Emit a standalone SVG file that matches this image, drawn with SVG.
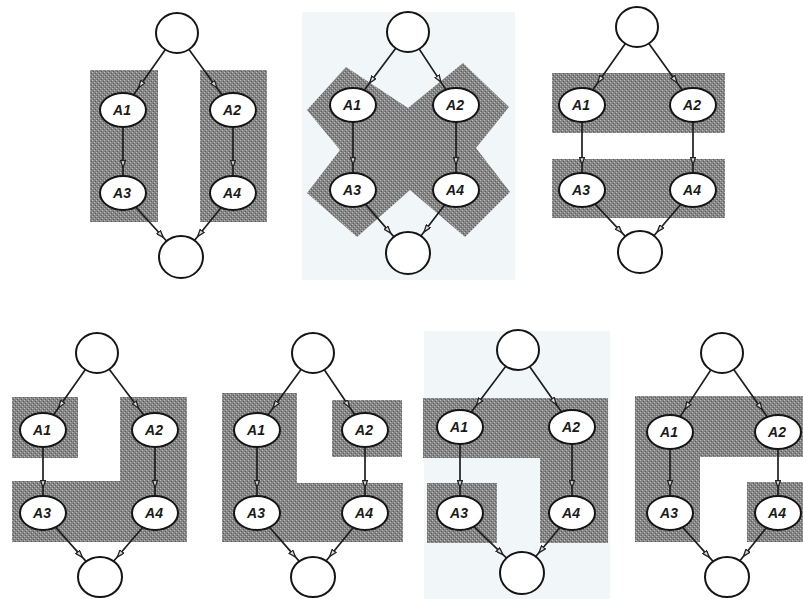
<svg xmlns="http://www.w3.org/2000/svg" width="803" height="599" viewBox="0 0 803 599">
  <defs>
    <!-- halftone-like grey fill for the shaded groupings -->
    <pattern id="dots" width="4" height="4" patternUnits="userSpaceOnUse">
      <rect width="4" height="4" fill="#858585"/>
      <rect x="0" y="0" width="1" height="1" fill="#bcbcbc"/>
      <rect x="2" y="2" width="1" height="1" fill="#bcbcbc"/>
      <rect x="1" y="3" width="1" height="1" fill="#5c5c5c"/>
      <rect x="3" y="1" width="1" height="1" fill="#5c5c5c"/>
    </pattern>
    <marker id="head" viewBox="0 0 8 6" refX="4" refY="3" markerWidth="8" markerHeight="6" markerUnits="userSpaceOnUse" orient="auto">
      <path d="M0.5,0.5 L7.5,3 L0.5,5.5 z" fill="#ddd" stroke="#222" stroke-width="1.3"/>
    </marker>
  </defs>
  <style>
    .bg { fill: #f1f7f9; }
    .shade { fill: url(#dots); }
    .node { fill: #fff; stroke: #151515; stroke-width: 2; }
    .edge { fill: none; stroke: #1e1e1e; stroke-width: 1.7; marker-mid: url(#head); }
    .lbl { font-family: "Liberation Sans", Arial, sans-serif; font-size: 14px; font-style: italic; font-weight: bold; fill: #1a1a1a; text-anchor: middle; dominant-baseline: central; }
  </style>

  <rect width="803" height="599" fill="#fff"/>

  <!-- panel backgrounds -->
  <rect class="bg" x="302" y="12" width="213" height="268"/>
  <rect class="bg" x="424" y="331" width="186" height="268"/>

  <!-- shaded groupings -->
  <g id="groupings">
    <rect class="shade" x="90" y="70" width="68" height="152"/>
    <rect class="shade" x="200" y="70" width="67" height="152"/>

    <polygon class="shade" points="307,110 346,67 408,108 463,63 509,107 476,148 510,192 465,237 410,190 357,237 307,193 340,150"/>

    <rect class="shade" x="552" y="73" width="173" height="60"/>
    <rect class="shade" x="552" y="159" width="173" height="59"/>

    <rect class="shade" x="12" y="397" width="66" height="61"/>
    <polygon class="shade" points="120,397 187,397 187,542 12,542 12,481 120,481"/>

    <polygon class="shade" points="222,393 297,393 297,483 403,483 403,542 222,542"/>
    <rect class="shade" x="332" y="400" width="70" height="57"/>

    <polygon class="shade" points="423,398 608,398 608,543 540,543 540,458 423,458"/>
    <rect class="shade" x="427" y="483" width="70" height="60"/>

    <polygon class="shade" points="635,396 803,396 803,457 700,457 700,542 635,542"/>
    <rect class="shade" x="747" y="482" width="56" height="60"/>
  </g>

  <!-- connectors: source centre, arrowhead point, target centre -->
  <g id="connectors">
    <polyline class="edge" points="177,33 140.8,84.6 123,110"/>
    <polyline class="edge" points="177,33 214.8,84.9 233,110"/>
    <polyline class="edge" points="123,110 123,164 123,193"/>
    <polyline class="edge" points="233,110 233,164 233,193"/>
    <polyline class="edge" points="123,193 160.9,234.8 181,257"/>
    <polyline class="edge" points="233,193 199.9,233.7 181,257"/>

    <polyline class="edge" points="408,32 371.7,80.2 353,105"/>
    <polyline class="edge" points="408,32 439,79.1 456,105"/>
    <polyline class="edge" points="353,105 353,161 353,190"/>
    <polyline class="edge" points="456,105 456,161 456,190"/>
    <polyline class="edge" points="353,190 388.3,230.4 408,253"/>
    <polyline class="edge" points="456,190 426.2,229.1 408,253"/>

    <polyline class="edge" points="637,27 599.9,79.7 582,105"/>
    <polyline class="edge" points="637,27 674.9,79.8 693,105"/>
    <polyline class="edge" points="582,105 582,161 582,190"/>
    <polyline class="edge" points="693,105 693,161 693,190"/>
    <polyline class="edge" points="582,190 619.5,230.1 640,252"/>
    <polyline class="edge" points="693,190 659.5,229.2 640,252"/>

    <polyline class="edge" points="97,353 60.8,404.6 43,430"/>
    <polyline class="edge" points="97,353 136.3,405.2 155,430"/>
    <polyline class="edge" points="43,430 43,484 43,513"/>
    <polyline class="edge" points="155,430 155,484 155,513"/>
    <polyline class="edge" points="43,513 80,554.6 100,577"/>
    <polyline class="edge" points="155,513 119.6,554.3 100,577"/>

    <polyline class="edge" points="313,353 275.2,404.9 257,430"/>
    <polyline class="edge" points="313,353 347.6,404.3 365,430"/>
    <polyline class="edge" points="257,430 257,484 257,513"/>
    <polyline class="edge" points="365,430 365,484 365,513"/>
    <polyline class="edge" points="257,513 293.2,554.4 313,577"/>
    <polyline class="edge" points="365,513 331.9,553.7 313,577"/>

    <polyline class="edge" points="518,350 478.7,402.2 460,427"/>
    <polyline class="edge" points="518,350 554.2,401.6 572,427"/>
    <polyline class="edge" points="460,427 460,484 460,513"/>
    <polyline class="edge" points="572,427 572,484 572,513"/>
    <polyline class="edge" points="460,513 500.4,552.1 522,573"/>
    <polyline class="edge" points="572,513 541.2,550 522,573"/>

    <polyline class="edge" points="722,353 687,406.1 670,432"/>
    <polyline class="edge" points="722,353 760.1,406.7 778,432"/>
    <polyline class="edge" points="670,432 670,484 670,513"/>
    <polyline class="edge" points="778,432 778,484 778,513"/>
    <polyline class="edge" points="670,513 707,554.6 727,577"/>
    <polyline class="edge" points="778,513 745.7,553.5 727,577"/>
  </g>

  <!-- panel 1 -->
  <g id="p1-start"><ellipse class="node" cx="177" cy="33" rx="21" ry="20"/></g>
  <g id="p1-a1"><ellipse class="node" cx="123" cy="110" rx="23" ry="17"/><text class="lbl" x="122" y="110">A1</text></g>
  <g id="p1-a2"><ellipse class="node" cx="233" cy="110" rx="23" ry="17"/><text class="lbl" x="232" y="110">A2</text></g>
  <g id="p1-a3"><ellipse class="node" cx="123" cy="193" rx="23" ry="17"/><text class="lbl" x="122" y="193">A3</text></g>
  <g id="p1-a4"><ellipse class="node" cx="233" cy="193" rx="23" ry="17"/><text class="lbl" x="232" y="193">A4</text></g>
  <g id="p1-end"><ellipse class="node" cx="181" cy="257" rx="22" ry="21"/></g>

  <!-- panel 2 -->
  <g id="p2-start"><ellipse class="node" cx="408" cy="32" rx="21" ry="20"/></g>
  <g id="p2-a1"><ellipse class="node" cx="353" cy="105" rx="23" ry="17"/><text class="lbl" x="352" y="105">A1</text></g>
  <g id="p2-a2"><ellipse class="node" cx="456" cy="105" rx="23" ry="17"/><text class="lbl" x="455" y="105">A2</text></g>
  <g id="p2-a3"><ellipse class="node" cx="353" cy="190" rx="23" ry="17"/><text class="lbl" x="352" y="190">A3</text></g>
  <g id="p2-a4"><ellipse class="node" cx="456" cy="190" rx="23" ry="17"/><text class="lbl" x="455" y="190">A4</text></g>
  <g id="p2-end"><ellipse class="node" cx="408" cy="253" rx="22" ry="21"/></g>

  <!-- panel 3 -->
  <g id="p3-start"><ellipse class="node" cx="637" cy="27" rx="21" ry="20"/></g>
  <g id="p3-a1"><ellipse class="node" cx="582" cy="105" rx="23" ry="17"/><text class="lbl" x="581" y="105">A1</text></g>
  <g id="p3-a2"><ellipse class="node" cx="693" cy="105" rx="23" ry="17"/><text class="lbl" x="692" y="105">A2</text></g>
  <g id="p3-a3"><ellipse class="node" cx="582" cy="190" rx="23" ry="17"/><text class="lbl" x="581" y="190">A3</text></g>
  <g id="p3-a4"><ellipse class="node" cx="693" cy="190" rx="23" ry="17"/><text class="lbl" x="692" y="190">A4</text></g>
  <g id="p3-end"><ellipse class="node" cx="640" cy="252" rx="22" ry="21"/></g>

  <!-- panel 4 -->
  <g id="p4-start"><ellipse class="node" cx="97" cy="353" rx="21" ry="20"/></g>
  <g id="p4-a1"><ellipse class="node" cx="43" cy="430" rx="23" ry="17"/><text class="lbl" x="42" y="430">A1</text></g>
  <g id="p4-a2"><ellipse class="node" cx="155" cy="430" rx="23" ry="17"/><text class="lbl" x="154" y="430">A2</text></g>
  <g id="p4-a3"><ellipse class="node" cx="43" cy="513" rx="23" ry="17"/><text class="lbl" x="42" y="513">A3</text></g>
  <g id="p4-a4"><ellipse class="node" cx="155" cy="513" rx="23" ry="17"/><text class="lbl" x="154" y="513">A4</text></g>
  <g id="p4-end"><ellipse class="node" cx="100" cy="577" rx="22" ry="20"/></g>

  <!-- panel 5 -->
  <g id="p5-start"><ellipse class="node" cx="313" cy="353" rx="21" ry="20"/></g>
  <g id="p5-a1"><ellipse class="node" cx="257" cy="430" rx="23" ry="17"/><text class="lbl" x="256" y="430">A1</text></g>
  <g id="p5-a2"><ellipse class="node" cx="365" cy="430" rx="23" ry="17"/><text class="lbl" x="364" y="430">A2</text></g>
  <g id="p5-a3"><ellipse class="node" cx="257" cy="513" rx="23" ry="17"/><text class="lbl" x="256" y="513">A3</text></g>
  <g id="p5-a4"><ellipse class="node" cx="365" cy="513" rx="23" ry="17"/><text class="lbl" x="364" y="513">A4</text></g>
  <g id="p5-end"><ellipse class="node" cx="313" cy="577" rx="22" ry="20"/></g>

  <!-- panel 6 -->
  <g id="p6-start"><ellipse class="node" cx="518" cy="350" rx="21" ry="20"/></g>
  <g id="p6-a1"><ellipse class="node" cx="460" cy="427" rx="23" ry="17"/><text class="lbl" x="459" y="427">A1</text></g>
  <g id="p6-a2"><ellipse class="node" cx="572" cy="427" rx="23" ry="17"/><text class="lbl" x="571" y="427">A2</text></g>
  <g id="p6-a3"><ellipse class="node" cx="460" cy="513" rx="23" ry="17"/><text class="lbl" x="459" y="513">A3</text></g>
  <g id="p6-a4"><ellipse class="node" cx="572" cy="513" rx="23" ry="17"/><text class="lbl" x="571" y="513">A4</text></g>
  <g id="p6-end"><ellipse class="node" cx="522" cy="573" rx="22" ry="21"/></g>

  <!-- panel 7 -->
  <g id="p7-start"><ellipse class="node" cx="722" cy="353" rx="21" ry="20"/></g>
  <g id="p7-a1"><ellipse class="node" cx="670" cy="432" rx="23" ry="17"/><text class="lbl" x="669" y="432">A1</text></g>
  <g id="p7-a2"><ellipse class="node" cx="778" cy="432" rx="23" ry="17"/><text class="lbl" x="777" y="432">A2</text></g>
  <g id="p7-a3"><ellipse class="node" cx="670" cy="513" rx="23" ry="17"/><text class="lbl" x="669" y="513">A3</text></g>
  <g id="p7-a4"><ellipse class="node" cx="778" cy="513" rx="23" ry="17"/><text class="lbl" x="777" y="513">A4</text></g>
  <g id="p7-end"><ellipse class="node" cx="727" cy="577" rx="22" ry="20"/></g>
</svg>
